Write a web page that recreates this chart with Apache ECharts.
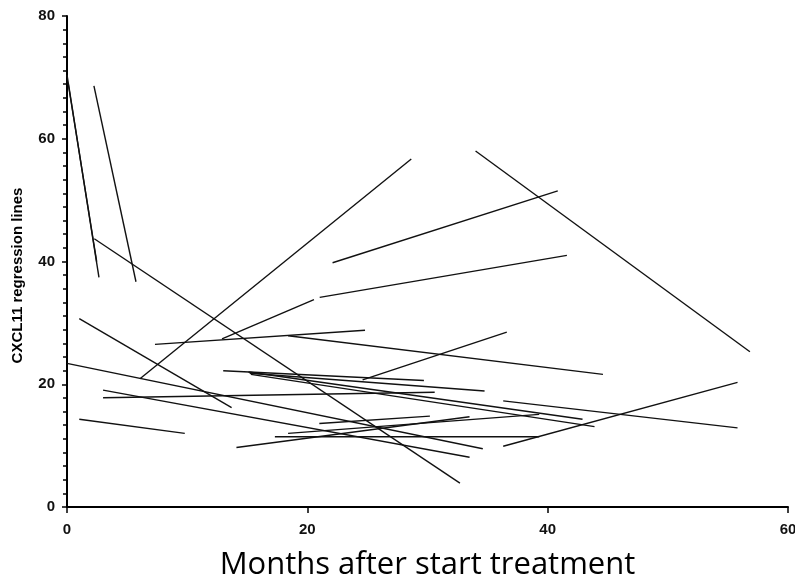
<!DOCTYPE html>
<html>
<head>
<meta charset="utf-8">
<script src="https://cdn.jsdelivr.net/npm/echarts@6/dist/echarts.min.js"></script>
<style>
  html, body { margin: 0; padding: 0; background: #fff; }
  #chart { width: 795px; height: 579px; }
</style>
</head>
<body>
<div id="chart"></div>
<script>
// Per-patient CXCL11 regression lines: start and end of each fitted segment
var startMonths = [0.0, 0.1, 2.24, 2.27, 6.07, 22.1, 34.0, 21.03, 12.9, 1.02, 0.0, 1.02, 7.32, 14.1, 18.4, 13.0, 24.6, 36.3, 36.3, 3.0, 3.0, 15.2, 15.1, 15.3, 17.3, 18.4, 21.0];
var startValues = [70.4, 69.0, 68.6, 43.7, 20.9, 39.8, 58.0, 34.15, 27.4, 30.7, 23.4, 14.3, 26.5, 9.7, 27.9, 22.2, 20.7, 17.3, 9.9, 19.05, 17.8, 21.8, 22.0, 21.6, 11.45, 12.0, 13.6];
var endMonths   = [2.66, 2.47, 5.74, 32.7, 28.65, 40.84, 56.83, 41.6, 20.55, 13.7, 34.6, 9.8, 24.8, 33.5, 44.6, 29.7, 36.6, 55.8, 55.8, 33.5, 30.6, 34.75, 42.9, 43.9, 39.3, 39.3, 30.2];
var endValues   = [37.4, 40.0, 36.7, 3.9, 56.7, 51.5, 25.3, 41.0, 33.8, 16.2, 9.5, 12.0, 28.8, 14.7, 21.6, 20.6, 28.5, 12.9, 20.3, 8.1, 18.7, 18.9, 14.3, 13.1, 11.45, 15.1, 14.8];

var xTicks = [0, 20, 40, 60];
var yTicks = [0, 20, 40, 60, 80];

var series = startMonths.map(function (x0, i) {
  return {
    type: 'line',
    data: [[x0, startValues[i]], [endMonths[i], endValues[i]]],
    symbol: 'none',
    silent: true,
    lineStyle: { color: '#111', width: 1.4 }
  };
});

var chart = echarts.init(document.getElementById('chart'));
chart.setOption({
  animation: false,
  grid: { left: 67, right: 7, top: 16, bottom: 72, outerBoundsMode: 'none' },
  xAxis: {
    type: 'value', min: xTicks[0], max: xTicks[xTicks.length - 1], interval: 20,
    name: 'Months after start treatment', nameLocation: 'middle', nameGap: 43,
    nameTextStyle: { fontFamily: 'Open Sans', fontSize: 31, color: '#000' },
    axisLine: { lineStyle: { color: '#000', width: 2 } },
    axisTick: { length: 6, lineStyle: { color: '#000', width: 1.5 } },
    axisLabel: { margin: 15, fontFamily: 'Liberation Sans', fontWeight: 'bold', fontSize: 15, color: '#111' },
    splitLine: { show: false }
  },
  yAxis: {
    type: 'value', min: yTicks[0], max: yTicks[yTicks.length - 1], interval: 20,
    name: 'CXCL11 regression lines', nameLocation: 'middle', nameGap: 42,
    nameTextStyle: { fontFamily: 'Liberation Sans', fontWeight: 'bold', fontSize: 15, color: '#000', padding: [0, 28, 0, 0] },
    axisLine: { show: true, lineStyle: { color: '#000', width: 2 } },
    axisTick: { show: true, length: 5, lineStyle: { color: '#000', width: 1.5 } },
    minorTick: { show: true, splitNumber: 9, length: 4, lineStyle: { color: '#000', width: 1.5 } },
    axisLabel: { margin: 12, fontFamily: 'Liberation Sans', fontWeight: 'bold', fontSize: 15, color: '#111' },
    splitLine: { show: false }
  },
  series: series
});
</script>
</body>
</html>
